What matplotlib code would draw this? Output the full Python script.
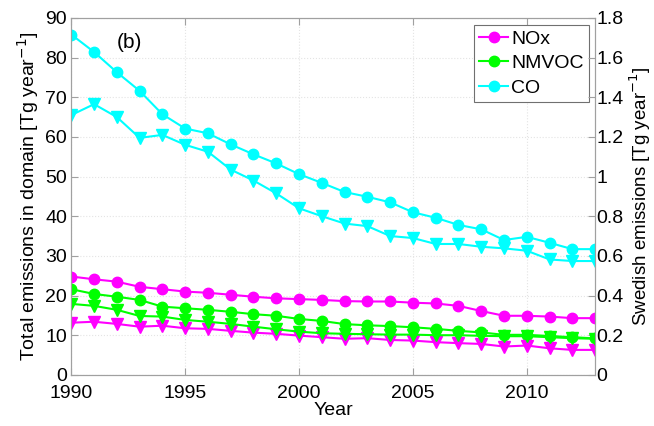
import matplotlib
matplotlib.use("Agg")
import matplotlib.pyplot as plt
import numpy as np

years = list(range(1990, 2014))

# Total emissions in domain (left axis, Tg/yr) - circles
nox_total = [24.8, 24.1, 23.5, 22.2, 21.6, 21.0, 20.7, 20.2, 19.7, 19.3, 19.1, 18.9,
             18.6, 18.5, 18.5, 18.2, 18.0, 17.4, 16.1, 14.9, 14.9, 14.7, 14.3, 14.3]
nmvoc_total = [21.6, 20.4, 19.7, 18.9, 17.2, 16.8, 16.4, 15.9, 15.3, 14.9, 14.1, 13.6,
               12.8, 12.5, 12.3, 12.0, 11.6, 11.1, 10.7, 10.1, 10.1, 9.8, 9.5, 9.2]
co_total = [85.8, 81.4, 76.3, 71.6, 65.7, 62.1, 60.9, 58.1, 55.6, 53.3, 50.6, 48.4,
            46.1, 44.9, 43.5, 41.0, 39.6, 37.8, 36.7, 34.0, 34.8, 33.3, 31.7, 31.7]

# Swedish emissions (right axis, Tg/yr) - triangles
nox_swe = [0.263, 0.268, 0.257, 0.243, 0.248, 0.235, 0.232, 0.222, 0.213, 0.207, 0.198, 0.190,
           0.182, 0.185, 0.176, 0.173, 0.165, 0.160, 0.156, 0.143, 0.148, 0.134, 0.126, 0.126]
nmvoc_swe = [0.358, 0.348, 0.328, 0.297, 0.294, 0.277, 0.268, 0.257, 0.243, 0.230, 0.218, 0.210,
             0.207, 0.205, 0.203, 0.203, 0.200, 0.200, 0.197, 0.195, 0.195, 0.190, 0.185, 0.182]
co_swe = [1.31, 1.365, 1.30, 1.195, 1.21, 1.16, 1.125, 1.035, 0.98, 0.915, 0.84, 0.80,
          0.763, 0.75, 0.70, 0.69, 0.66, 0.66, 0.646, 0.638, 0.626, 0.582, 0.574, 0.574]

names = ["NOx", "NMVOC", "CO"]
colors = ["#ff00ff", "#00ff00", "#00ffff"]

plt.rcParams['font.family'] = ['Liberation Sans', 'DejaVu Sans']
plt.rcParams['font.size'] = 14

fig = plt.figure(figsize=(6.54, 4.26), dpi=100)
ax = fig.add_axes([0.109, 0.12, 0.801, 0.838])
ax2 = ax.twinx()

lw = 1.5
ms = 7.5
for tot, c, n in zip([nox_total, nmvoc_total, co_total], colors, names):
    ax.plot(years, tot, '-o', color=c, lw=lw, ms=ms, mec=c, label=n)
for swe, c in zip([nox_swe, nmvoc_swe, co_swe], colors):
    ax2.plot(years, swe, '-v', color=c, lw=lw, ms=ms + 1, mec=c)

ax.set_xlim(1990, 2013)
ax.set_ylim(0, 90)
ax2.set_ylim(0, 1.8)
ax.set_xticks([1990, 1995, 2000, 2005, 2010])
ax.set_yticks(np.arange(0, 91, 10))
ax2.set_yticks(np.arange(0, 1.81, 0.2))
ax2.set_yticklabels(["0", "0.2", "0.4", "0.6", "0.8", "1", "1.2", "1.4", "1.6", "1.8"])

ax.grid(True, linestyle=':', color='#e4e4e4', lw=0.8)
for a in (ax, ax2):
    for s in a.spines.values():
        s.set_color('#a0a0a0')
    a.tick_params(direction='in', length=5, color='#a0a0a0', labelsize=14)
ax.tick_params(axis='y', pad=3)
ax2.tick_params(axis='y', pad=1)
ax.tick_params(axis='x', pad=7, top=True)

ax.set_xlabel("Year", fontsize=14, labelpad=0)
ax.set_ylabel("Total emissions in domain [Tg year$^{-1}$]", fontsize=14, labelpad=3)
ax2.set_ylabel("Swedish emissions [Tg year$^{-1}$]", fontsize=13.5, labelpad=3)

ax.text(1992.0, 82.5, "(b)", fontsize=15)

leg = ax.legend(loc='upper right', bbox_to_anchor=(0.995, 0.99), fontsize=14,
                fancybox=False, framealpha=1, edgecolor='#707070',
                handlelength=1.5, handletextpad=0.15, borderpad=0.25,
                labelspacing=0.35, borderaxespad=0.2)
leg.get_frame().set_linewidth(0.8)

fig.savefig("out.png", dpi=100)
